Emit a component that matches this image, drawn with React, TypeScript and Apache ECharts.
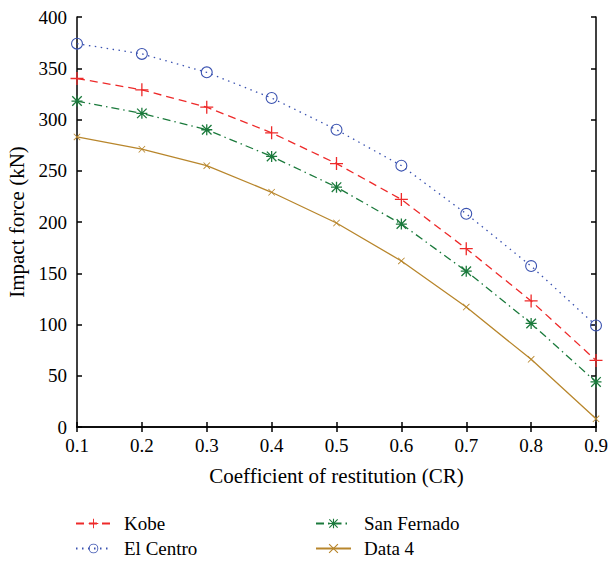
import React, { useEffect, useRef } from "react";
import * as echarts from "echarts";

const categories = ["0.1", "0.2", "0.3", "0.4", "0.5", "0.6", "0.7", "0.8", "0.9"];
const kobe = [340, 329, 312, 287, 257, 222, 174, 123, 65];
const elCentro = [374, 364, 346, 321, 290, 255, 208, 157, 99];
const sanFernado = [318, 306, 290, 264, 234, 198, 152, 101, 44];
const data4 = [283, 271, 255, 229, 199, 162, 117, 66, 8];

const FONT = "Liberation Serif";

const PLUS = "path://M5.4,0 H6.6 V12 H5.4 Z M0,5.4 H12 V6.6 H0 Z";
const STAR =
  "path://M0,5.3 H12 V6.7 H0 Z M5.3,0 H6.7 V12 H5.3 Z M1.3,0.3 L11.7,10.7 L10.7,11.7 L0.3,1.3 Z M10.7,0.3 L11.7,1.3 L1.3,11.7 L0.3,10.7 Z";
const CROSS = "path://M1,0 L12,11 L11,12 L0,1 Z M11,0 L12,1 L1,12 L0,11 Z";
const RING =
  "path://M0,6 A6,6 0 1,1 12,6 A6,6 0 1,1 0,6 Z M1.1,6 A4.9,4.9 0 1,0 10.9,6 A4.9,4.9 0 1,0 1.1,6 Z";

export default function App() {
  const ref = useRef<HTMLDivElement>(null);
  useEffect(() => {
    document.body.style.margin = "0";
    document.body.style.overflow = "hidden";
    if (!ref.current) return;
    const chart = echarts.init(ref.current, null, { renderer: "svg" });
    const axisLine = { show: true, lineStyle: { color: "#000", width: 1.5 } };
    const tick = { show: true, inside: true, length: 5, lineStyle: { color: "#000", width: 1.5 } };
    const legendBase = {
      orient: "horizontal",
      itemWidth: 35,
      itemHeight: 12,
      padding: 0,
      textStyle: { color: "#000", fontSize: 19, fontFamily: FONT, padding: [0, 0, 0, 8] },
    };
    const option: any = {
      animation: false,
      backgroundColor: "#fff",
      textStyle: { fontFamily: FONT },
      grid: { left: 77, top: 17, right: 12, bottom: 134, containLabel: false, outerBoundsMode: "none" },
      xAxis: [
        {
          type: "category",
          data: categories,
          boundaryGap: false,
          axisLine,
          axisTick: { ...tick, alignWithLabel: true },
          axisLabel: { color: "#000", fontSize: 19, fontFamily: FONT, margin: 9 },
          splitLine: { show: false },
          name: "Coefficient of restitution (CR)",
          nameLocation: "middle",
          nameGap: 38,
          nameTextStyle: { color: "#000", fontSize: 21, fontFamily: FONT },
        },
        {
          type: "category",
          data: categories,
          boundaryGap: false,
          position: "top",
          axisLine,
          axisTick: tick,
          axisLabel: { show: false },
          splitLine: { show: false },
        },
      ],
      yAxis: [
        {
          type: "value",
          min: 0,
          max: 400,
          interval: 50,
          axisLine,
          axisTick: tick,
          axisLabel: { color: "#000", fontSize: 19, fontFamily: FONT, margin: 10 },
          splitLine: { show: false },
          name: "Impact force (kN)",
          nameLocation: "middle",
          nameGap: 49,
          nameTextStyle: { color: "#000", fontSize: 21, fontFamily: FONT },
        },
        {
          type: "value",
          min: 0,
          max: 400,
          interval: 50,
          position: "right",
          axisLine,
          axisTick: tick,
          axisLabel: { show: false },
          splitLine: { show: false },
        },
      ],
      legend: [
        { ...legendBase, data: ["Kobe"], left: 75, top: 514 },
        { ...legendBase, data: ["El Centro"], left: 75, top: 539 },
        { ...legendBase, data: ["San Fernado"], left: 315, top: 514 },
        { ...legendBase, data: ["Data 4"], left: 315, top: 539 },
      ],
      series: [
        {
          name: "Kobe",
          type: "line",
          data: kobe,
          symbol: PLUS,
          symbolSize: 13,
          showAllSymbol: true,
          itemStyle: { color: "#ee2a2a" },
          lineStyle: { color: "#ee2a2a", width: 1.3, type: [8, 5] },
        },
        {
          name: "El Centro",
          type: "line",
          data: elCentro,
          symbol: RING,
          symbolSize: 12,
          showAllSymbol: true,
          itemStyle: { color: "#3a52b0" },
          lineStyle: { color: "#3a52b0", width: 1.3, type: [1.5, 4.5] },
        },
        {
          name: "San Fernado",
          type: "line",
          data: sanFernado,
          symbol: STAR,
          symbolSize: 11,
          showAllSymbol: true,
          itemStyle: { color: "#1b7a3c" },
          lineStyle: { color: "#1b7a3c", width: 1.3, type: [8, 4, 1.5, 4] },
        },
        {
          name: "Data 4",
          type: "line",
          data: data4,
          symbol: CROSS,
          symbolSize: 7,
          showAllSymbol: true,
          itemStyle: { color: "#b8862c" },
          lineStyle: { color: "#b8862c", width: 1.3, type: "solid" },
        },
      ],
    };
    chart.setOption(option);
    return () => chart.dispose();
  }, []);
  return <div ref={ref} style={{ width: 608, height: 561 }} />;
}
